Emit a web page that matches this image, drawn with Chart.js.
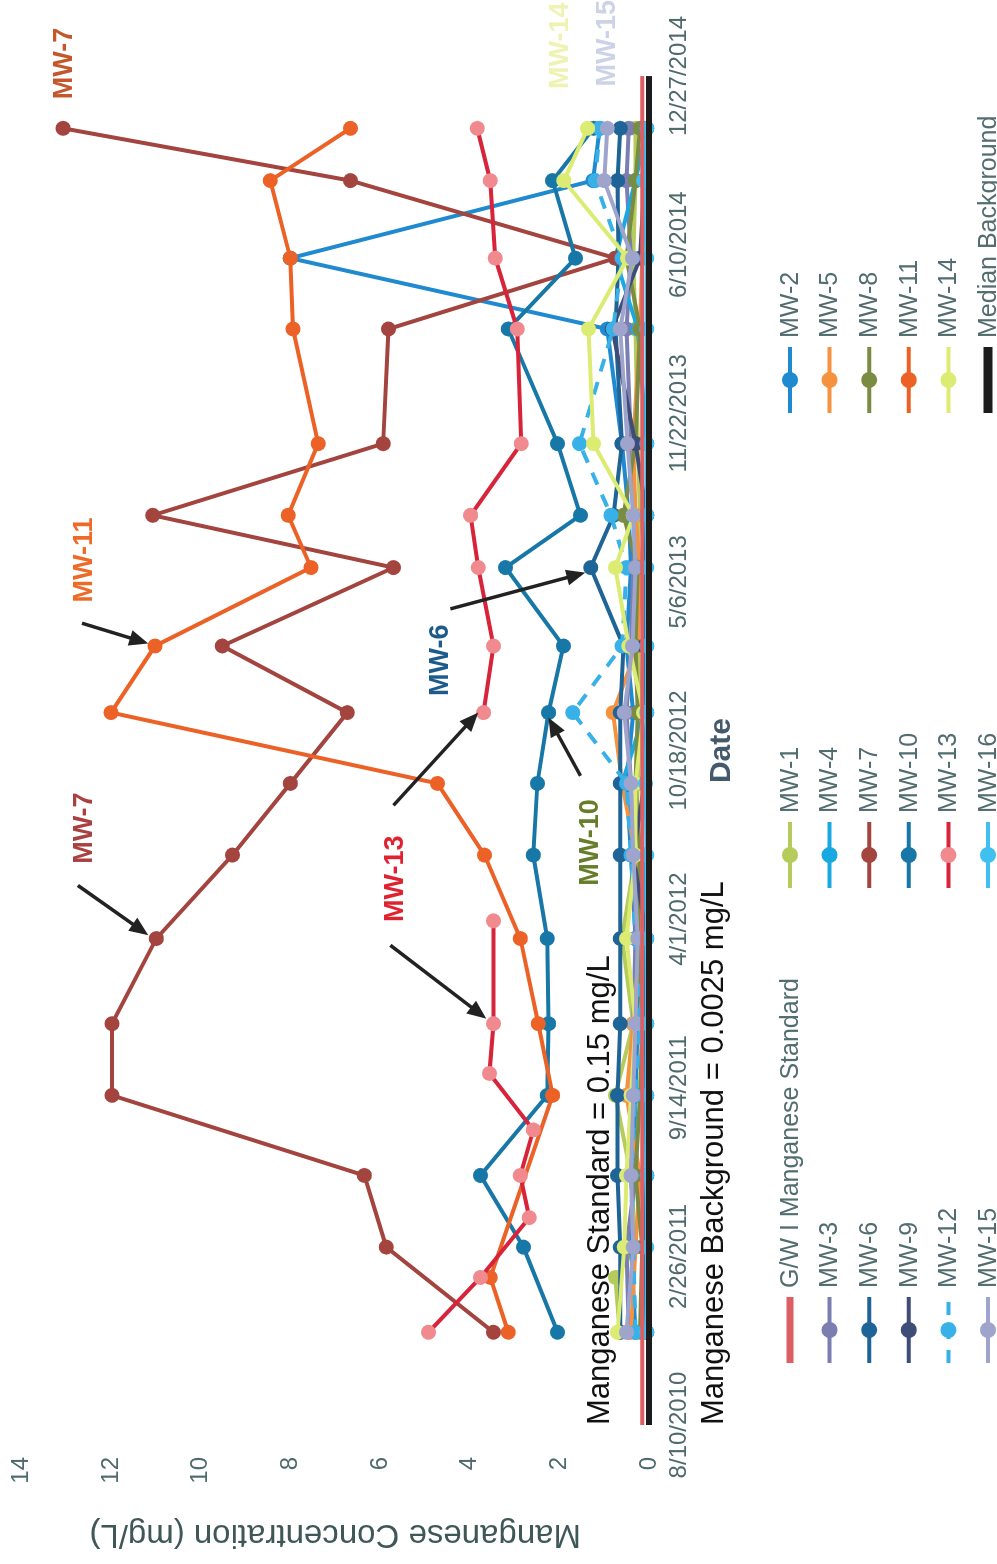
<!DOCTYPE html>
<html>
<head>
<meta charset="utf-8">
<script src="https://cdn.jsdelivr.net/npm/chart.js@4.4.1/dist/chart.umd.min.js"></script>
<style>
  html, body { margin: 0; padding: 0; background: #fff; overflow: hidden; }
  body { width: 997px; height: 1564px; position: relative; }
  /* the chart is drawn landscape and turned a quarter turn to the left */
  #wrap { position: absolute; left: 0; top: 0; width: 1564px; height: 997px;
          transform-origin: 0 0; transform: translate(0, 1564px) rotate(-90deg); }
</style>
</head>
<body>
<div id="wrap"><canvas id="chart" width="1564" height="997"></canvas></div>
<script>
const dateTicks = ['8/10/2010', '2/26/2011', '9/14/2011', '4/1/2012', '10/18/2012',
  '5/6/2013', '11/22/2013', '6/10/2014', '12/27/2014'];

const sampleDates = ['11/28/2010', '2/1/2011', '3/9/2011', '6/2/2011', '9/5/2011', '11/29/2011',
  '3/9/2012', '6/16/2012', '9/9/2012', '12/2/2012', '2/19/2013', '5/23/2013', '7/24/2013',
  '10/17/2013', '3/2/2014', '5/25/2014', '8/25/2014', '10/26/2014'];

const mw1 = [0.65, 0.75, 0.3, 0.4, 0.75, 0.35, 0.6, 0.3, 0.25, 0.2, 0.25, 0.3, 0.2, 0.25, 0.3, 0.35, 0.3, 0.3];
const mw2 = [0.3, null, 0.4, 0.35, 0.3, 0.25, 0.3, 0.4, 0.5, 0.35, 0.5, 0.4, 0.45, 0.6, 0.93, 8.0, 1.25, 1.1];
const mw3 = [0.45, null, 0.5, 0.3, 0.4, 0.35, 0.3, 0.35, 0.4, 0.5, 0.4, 0.35, 0.3, 0.4, 0.5, 0.4, 0.5, 0.45];
const mw4 = [0.05, null, 0.1, 0.05, 0.08, 0.05, 0.1, 0.1, 0.6, 0.1, 0.05, 0.08, 0.05, 0.05, 0.25, 0.75, 0.3, 0.05];
const mw5 = [0.4, null, 0.3, 0.2, 0.5, 0.35, 0.2, 0.3, 0.6, 0.8, 0.25, 0.2, 0.3, 0.35, 0.2, 0.15, 0.1, 0.1];
const mw6 = [0.64, null, 0.64, 0.7, 0.7, 0.64, 0.64, 0.64, 0.64, 0.64, 0.57, 1.3, 0.79, 0.6, 0.75, 0.68, 0.7, 0.64];
const mw7 = [3.47, null, 5.86, 6.35, 11.98, 11.98, 10.99, 9.29, 8.0, 6.73, 9.52, 5.7, 11.07, 5.93, 5.81, 0.75, 6.66, 13.07];
const mw8 = [0.2, null, 0.15, 0.3, 0.2, 0.15, 0.25, 0.2, 0.3, 0.25, 0.3, 0.25, 0.57, 0.3, 0.2, 0.5, 0.3, 0.2];
const mw9 = [0.05, null, 0.08, 0.05, 0.05, 0.08, 0.05, 0.35, 0.1, 0.05, 0.1, 0.08, 0.05, 0.3, 0.82, 0.2, 0.1, 0.05];
const mw10 = [2.04, null, 2.8, 3.76, 2.27, 2.24, 2.27, 2.58, 2.49, 2.24, 1.91, 3.2, 1.53, 2.04, 3.14, 1.64, 2.15, 1.24];
const mw11 = [3.14, 3.54, null, null, 2.15, 2.47, 2.87, 3.67, 4.72, 12.0, 11.02, 7.54, 8.05, 7.38, 7.94, 8.0, 8.45, 6.66];
const mw12 = [0.3, null, 0.35, 0.4, 0.3, 0.2, 0.3, 0.4, 0.5, 1.7, 0.6, 0.5, 0.85, 1.55, 0.8, 0.6, 1.2, 1.1];
const mw14 = [0.7, null, 0.55, 0.5, 0.4, 0.3, 0.5, 0.3, 0.3, 0.12, 0.45, 0.75, 0.35, 1.24, 1.35, 0.48, 1.9, 1.37];
const mw15 = [0.5, null, 0.35, 0.4, 0.35, 0.3, 0.25, 0.35, 0.4, 0.55, 0.37, 0.3, 0.35, 0.48, 0.64, 0.37, 1.0, 0.93];
const mw16 = [0.05, null, 0.05, 0.05, 0.05, 0.05, 0.05, 0.05, 0.08, 0.05, 0.05, 0.05, 0.05, 0.05, 0.05, 0.05, 0.12, 0.05];

// MW-13 was sampled on its own schedule, with no result in mid 2012
const mw13Dates = ['11/28/2010', '2/1/2011', '4/13/2011', '6/2/2011', '7/26/2011', '10/1/2011',
  '11/29/2011', '3/30/2012', '9/1/2012', '12/2/2012', '2/19/2013', '5/23/2013', '7/24/2013',
  '10/17/2013', '3/2/2014', '5/25/2014', '8/25/2014', '10/26/2014'];
const mw13 = [4.92, 3.76, 2.67, 2.87, 2.58, 3.56, 3.47, 3.47, null, 3.69, 3.47, 3.81, 3.98, 2.85, 2.94, 3.43, 3.54, 3.83];

const standardValue = 0.15;
const backgroundValue = 0.0025;

const FONT = "'Liberation Sans', Arial, sans-serif";
Chart.defaults.font.family = FONT;

const START = Date.UTC(2010, 7, 10);
function dayOf(s) {
  const [m, d, y] = s.split('/').map(Number);
  return (Date.UTC(y, m - 1, d) - START) / 86400000;
}
const xMin = dayOf(dateTicks[0]);
const xMax = dayOf(dateTicks[dateTicks.length - 1]);

function well(label, values, color, extra) {
  return Object.assign({
    label,
    data: sampleDates.map((d, i) => ({ x: dayOf(d), y: values[i] })),
    borderColor: color, backgroundColor: color,
    pointBackgroundColor: color, pointBorderColor: color,
    borderWidth: 4, pointRadius: 7.5, pointBorderWidth: 0,
    tension: 0, spanGaps: true, clip: false
  }, extra || {});
}

function flatLine(label, value, color, width) {
  return {
    label,
    data: [{ x: xMin, y: value }, { x: xMax, y: value }],
    borderColor: color, backgroundColor: color,
    borderWidth: width, pointRadius: 0, clip: false
  };
}

// legend order; `order` decides what lands on top (lower = later)
const datasets = [
  Object.assign(flatLine('G/W I Manganese Standard', standardValue, '#dc5f66', 4), { order: 1 }),
  well('MW-1', mw1, '#b5cc5c', { order: 19 }),
  well('MW-2', mw2, '#1f8ad0', { order: 18 }),
  well('MW-3', mw3, '#7a7eb0', { order: 17 }),
  well('MW-4', mw4, '#19a8e2', { order: 16 }),
  well('MW-5', mw5, '#f5923f', { order: 15 }),
  well('MW-6', mw6, '#1f6496', { order: 14 }),
  well('MW-7', mw7, '#a3443f', { order: 13 }),
  well('MW-8', mw8, '#7a8c42', { order: 12 }),
  well('MW-9', mw9, '#3e4c78', { order: 11 }),
  well('MW-10', mw10, '#1777a6', { order: 10 }),
  well('MW-11', mw11, '#ec6126', { order: 9 }),
  well('MW-12', mw12, '#38b0e8', { order: 8, borderDash: [13, 11] }),
  {
    label: 'MW-13',
    data: mw13Dates.map((d, i) => ({ x: dayOf(d), y: mw13[i] })),
    borderColor: '#d8243a', backgroundColor: '#f08a8e',
    pointBackgroundColor: '#f08a8e', pointBorderColor: '#f08a8e',
    borderWidth: 4, pointRadius: 7.5, pointBorderWidth: 0,
    tension: 0, spanGaps: false, clip: false, order: 7
  },
  well('MW-14', mw14, '#dcec72', { order: 6 }),
  well('MW-15', mw15, '#9ea4cc', { order: 5 }),
  well('MW-16', mw16, '#40c0f0', { order: 4 }),
  Object.assign(flatLine('Median Background', backgroundValue, '#1c1c1c', 6), { order: 0 })
];

// call-outs, placed in axis units (day since 8/10/2010, mg/L)
const labels = [
  { text: 'MW-11', day: 1026, val: 12.6, color: '#ee6a26' },
  { text: 'MW-7', day: 708, val: 12.6, color: '#a8413f' },
  { text: 'MW-13', day: 648, val: 5.66, color: '#e0212f' },
  { text: 'MW-6', day: 907, val: 4.65, color: '#1d5b8a' },
  { text: 'MW-10', day: 691, val: 1.31, color: '#667d2a' },
  { text: 'MW-7', day: 1615, val: 13.03, color: '#c4582b' },
  { text: 'MW-14', day: 1636, val: 1.98, color: '#eef3b4' },
  { text: 'MW-15', day: 1639, val: 0.93, color: '#cdd3e6' }
];
const arrows = [
  [951, 12.65, 927, 11.17],
  [640, 12.74, 581, 11.17],
  [569, 5.77, 482, 3.63],
  [735, 5.7, 845, 3.81],
  [968, 4.43, 1011, 1.42],
  [770, 1.53, 839, 2.24]
];
const notes = [
  { text: 'Manganese Standard = 0.15 mg/L', day: 0, val: 1.08 },
  { text: 'Manganese Background = 0.0025 mg/L', day: 0, val: -1.46 }
];

function drawArrow(ctx, x1, y1, x2, y2) {
  const a = Math.atan2(y2 - y1, x2 - x1);
  const head = 19, half = 8;
  ctx.beginPath();
  ctx.moveTo(x1, y1);
  ctx.lineTo(x2 - Math.cos(a) * head * 0.7, y2 - Math.sin(a) * head * 0.7);
  ctx.stroke();
  ctx.beginPath();
  ctx.moveTo(x2, y2);
  ctx.lineTo(x2 - head * Math.cos(a) + half * Math.sin(a), y2 - head * Math.sin(a) - half * Math.cos(a));
  ctx.lineTo(x2 - head * Math.cos(a) - half * Math.sin(a), y2 - head * Math.sin(a) + half * Math.cos(a));
  ctx.closePath();
  ctx.fill();
}

const callouts = {
  id: 'callouts',
  afterDraw(chart) {
    const { ctx, scales: { x, y } } = chart;
    ctx.save();
    ctx.textAlign = 'center';
    ctx.textBaseline = 'middle';
    ctx.font = 'bold 27px ' + FONT;
    labels.forEach(l => {
      ctx.fillStyle = l.color;
      ctx.fillText(l.text, x.getPixelForValue(l.day), y.getPixelForValue(l.val));
    });
    ctx.strokeStyle = '#222';
    ctx.fillStyle = '#222';
    ctx.lineWidth = 3.5;
    arrows.forEach(a => drawArrow(ctx,
      x.getPixelForValue(a[0]), y.getPixelForValue(a[1]),
      x.getPixelForValue(a[2]), y.getPixelForValue(a[3])));
    ctx.textAlign = 'left';
    ctx.fillStyle = '#111';
    ctx.font = '31px ' + FONT;
    notes.forEach(n => ctx.fillText(n.text, x.getPixelForValue(n.day), y.getPixelForValue(n.val)));
    ctx.restore();
  }
};

// three-column legend below the axis, line + marker swatches
const gridLegend = {
  id: 'gridLegend',
  afterDraw(chart) {
    const ctx = chart.ctx;
    const cols = [234, 709, 1184];
    const top = 790, step = 39.6, half = 33;
    ctx.save();
    ctx.font = '25px ' + FONT;
    ctx.textBaseline = 'middle';
    ctx.textAlign = 'left';
    chart.data.datasets.forEach((ds, i) => {
      const cx = cols[i % 3];
      const cy = top + Math.floor(i / 3) * step;
      ctx.strokeStyle = ds.borderColor;
      ctx.lineWidth = ds.pointRadius === 0 ? ds.borderWidth + 3 : ds.borderWidth;
      ctx.setLineDash(ds.borderDash || []);
      ctx.beginPath();
      ctx.moveTo(cx - half, cy);
      ctx.lineTo(cx + half, cy);
      ctx.stroke();
      ctx.setLineDash([]);
      if (ds.pointRadius !== 0) {
        ctx.fillStyle = ds.pointBackgroundColor;
        ctx.beginPath();
        ctx.arc(cx, cy, 8, 0, Math.PI * 2);
        ctx.fill();
      }
      ctx.fillStyle = '#526d6f';
      ctx.fillText(ds.label, cx + 42, cy + 1);
    });
    ctx.restore();
  }
};

const tickColor = '#4f6a6c';

new Chart(document.getElementById('chart').getContext('2d'), {
  type: 'line',
  data: { datasets },
  options: {
    responsive: false,
    animation: false,
    devicePixelRatio: 1,
    layout: { padding: { top: 21, right: 75, bottom: 237, left: 0 } },
    plugins: { legend: { display: false }, tooltip: { enabled: false } },
    scales: {
      x: {
        type: 'linear',
        min: xMin,
        max: xMax,
        afterBuildTicks: s => { s.ticks = dateTicks.map(d => ({ value: dayOf(d) })); },
        afterFit: s => { s.height = 111; },
        ticks: {
          autoSkip: false, maxRotation: 0, padding: 16,
          color: tickColor, font: { size: 24 },
          callback: (v, i) => dateTicks[i]
        },
        grid: { display: false, drawTicks: false },
        border: { display: false },
        title: {
          display: true, text: 'Date', color: '#44596b',
          font: { size: 30, weight: 'bold' }, padding: { top: 4, bottom: 20 }
        }
      },
      y: {
        min: 0,
        max: 14,
        afterFit: s => { s.width = 139; },
        // hidden tick length keeps the labels clear of the plot without padding the top
        ticks: { stepSize: 2, padding: 7, color: tickColor, font: { size: 24 } },
        grid: { display: false, drawTicks: true, tickLength: 25 },
        border: { display: false },
        title: {
          display: true, text: 'Manganese Concentration (mg/L)', color: '#3f5757',
          font: { size: 33 }, padding: { top: 10, bottom: 0 }
        }
      }
    }
  },
  plugins: [callouts, gridLegend]
});
</script>
</body>
</html>
